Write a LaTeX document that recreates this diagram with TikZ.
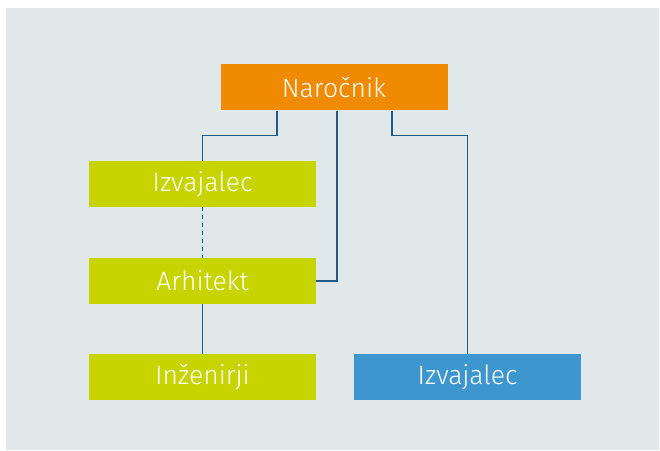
\documentclass[tikz,border=0pt]{standalone}
\usepackage{fontspec}
\setmainfont{Fira Sans Light}
\usepackage{xcolor}
\usetikzlibrary{calc}
\definecolor{bgblue}{HTML}{E0E8EA}
\definecolor{narorange}{HTML}{F08A00}
\definecolor{izvgreen}{HTML}{C8D400}
\definecolor{izvblue}{HTML}{3D96CE}
\definecolor{linkblue}{HTML}{1F5A8A}
\tikzset{
  box/.style={minimum width=227pt, minimum height=46pt, inner sep=0pt, text=white, font=\fontsize{26.5}{30}\selectfont},
  link/.style={linkblue, line width=1.5pt},
}

\begin{document}
\begin{tikzpicture}[x=1pt, y=1pt]
\useasboundingbox (0,0) rectangle (660,450);
\fill[bgblue] (6,0) rectangle (659,442);
\node[box, fill=narorange] (nar) at (334,362.5) {Naročnik};
\node[box, fill=izvgreen] (izv) at (202.5,266) {Izvajalec};
\node[box, fill=izvgreen] (arh) at (202.5,169) {Arhitekt};
\node[box, fill=izvgreen] (inz) at (202.5,73) {Inženirji};
\node[box, fill=izvblue] (izvb) at (467.5,73) {Izvajalec};
\draw[link] ([xshift=-57pt]nar.south) -- ++(0,-25) -| (izv.north);
\draw[link] ([xshift=3pt]nar.south) |- (arh.east);
\draw[link] ([xshift=58pt]nar.south) -- ++(0,-25) -| (izvb.north);
\draw[link, dash pattern=on 4pt off 4pt] (izv.south) -- (arh.north);
\draw[link] (arh.south) -- (inz.north);
\end{tikzpicture}
\end{document}
